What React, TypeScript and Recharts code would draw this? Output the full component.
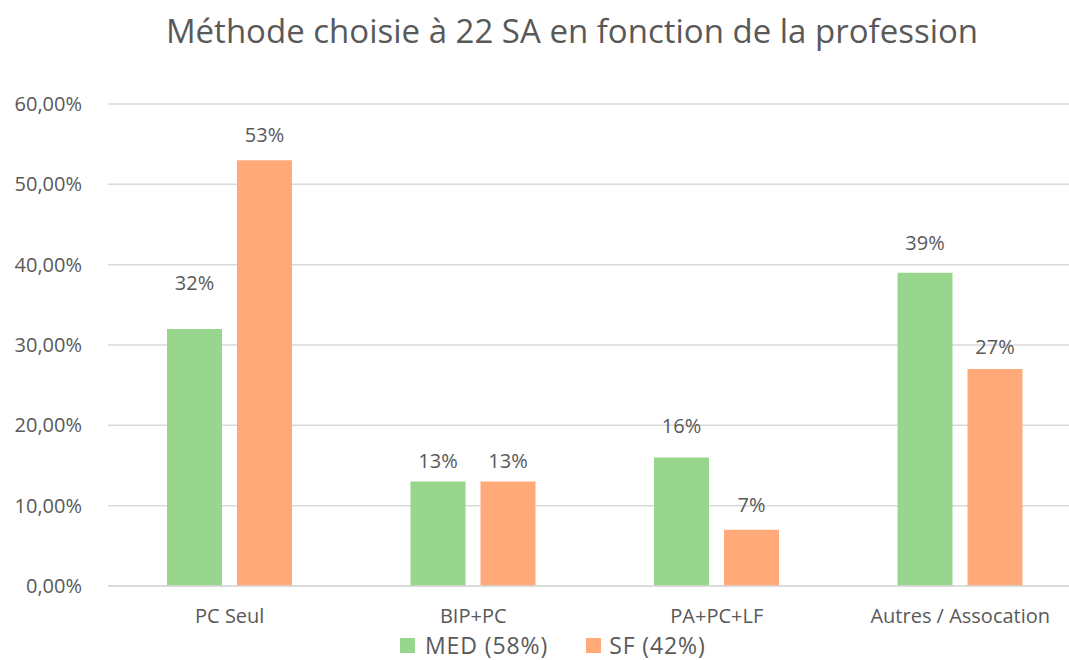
import React from 'react';
import { BarChart, Bar, XAxis, YAxis, CartesianGrid, Legend, LabelList } from 'recharts';

const categories = ['PC Seul', 'BIP+PC', 'PA+PC+LF', 'Autres / Assocation'];
const medValues = [32, 13, 16, 39];
const sfValues = [53, 13, 7, 27];
const yTicks = [0, 10, 20, 30, 40, 50, 60];
const seriesNames = ['MED (58%)', 'SF (42%)'];

// label distance above bar top (styling)
const medLabelGap = [46, 21, 32, 30];
const sfLabelGap = [25, 21, 25, 22];

const GREEN = '#98D68D';
const ORANGE = '#FFAA78';
const TEXT = '#595959';
const GRID = '#D9D9D9';
const FONT = '"Open Sans", sans-serif';

const data = categories.map((c, i) => ({ name: c, med: medValues[i], sf: sfValues[i] }));

const makeLabel = (gaps: number[]) => (props: any) => {
  const { x, y, width, value, index } = props;
  return (
    <text
      x={x + width / 2}
      y={y - gaps[index]}
      dy="0.355em"
      textAnchor="middle"
      fill={TEXT}
      fontSize={20}
      fontFamily={FONT}
    >
      {`${value}%`}
    </text>
  );
};

const LegendContent = () => (
  <div style={{ display: 'flex', alignItems: 'center', fontSize: 23, lineHeight: 1, letterSpacing: 0.9, color: TEXT, fontFamily: FONT, whiteSpace: 'nowrap' }}>
    <span style={{ width: 15, height: 15, background: GREEN, display: 'inline-block', marginRight: 10 }} />
    <span>{seriesNames[0]}</span>
    <span style={{ width: 15, height: 15, background: ORANGE, display: 'inline-block', marginLeft: 38, marginRight: 8 }} />
    <span>{seriesNames[1]}</span>
  </div>
);

export default function App() {
  return (
    <div style={{ position: 'fixed', left: 0, top: 0, width: 1069, height: 660, overflow: 'hidden', background: '#fff', fontFamily: FONT }}>
      <div style={{ position: 'absolute', left: 0, top: 14, width: 1144, textAlign: 'center', fontSize: 33, lineHeight: 1, color: TEXT, whiteSpace: 'nowrap', zIndex: 2 }}>
        Méthode choisie à 22 SA en fonction de la profession
      </div>
      <BarChart width={1090} height={660} data={data} margin={{ top: 104, right: 8, left: 0, bottom: 44 }} barSize={55} barGap={15}>
        <CartesianGrid vertical={false} stroke={GRID} strokeWidth={1.5} />
        <XAxis
          dataKey="name"
          height={30}
          axisLine={{ stroke: GRID, strokeWidth: 1.5 }}
          tickLine={false}
          tickSize={0}
          tickMargin={23}
          tick={{ fill: TEXT, fontSize: 20, fontFamily: FONT }}
          interval={0}
        />
        <YAxis
          width={108}
          domain={[0, 60]}
          ticks={yTicks}
          axisLine={false}
          tickLine={false}
          tickSize={0}
          tickMargin={26}
          tick={{ fill: TEXT, fontSize: 20, fontFamily: FONT }}
          tickFormatter={(v: number) => v.toFixed(2).replace('.', ',') + '%'}
        />
        <Legend
          layout="horizontal"
          verticalAlign="middle"
          align="center"
          content={<LegendContent />}
          wrapperStyle={{ top: 634, left: 400, width: 400 }}
        />
        <Bar dataKey="med" name={seriesNames[0]} fill={GREEN} isAnimationActive={false}>
          <LabelList dataKey="med" content={makeLabel(medLabelGap)} />
        </Bar>
        <Bar dataKey="sf" name={seriesNames[1]} fill={ORANGE} isAnimationActive={false}>
          <LabelList dataKey="sf" content={makeLabel(sfLabelGap)} />
        </Bar>
      </BarChart>
    </div>
  );
}
